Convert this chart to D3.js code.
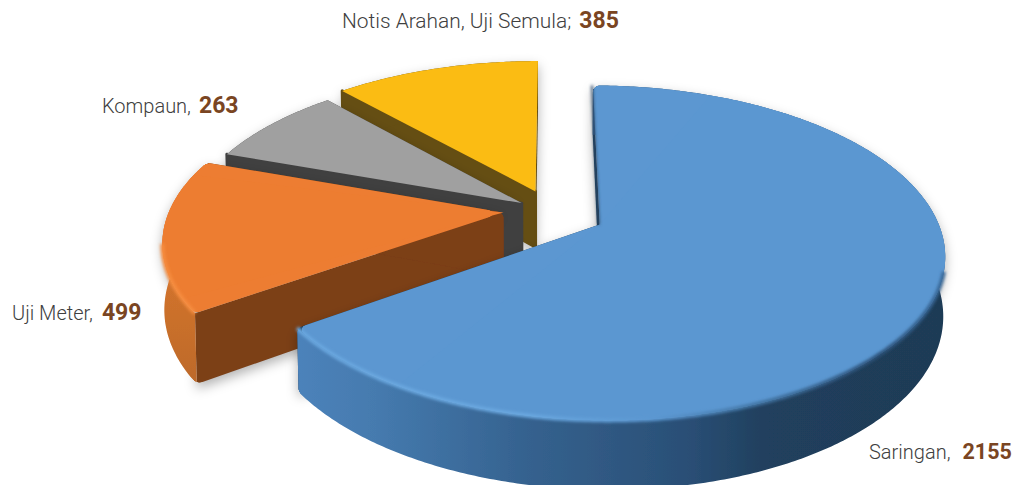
<!DOCTYPE html>
<html>
<head>
    <script src="https://cdn.jsdelivr.net/npm/d3@7"></script>
    <style>
        html, body { margin: 0; padding: 0; background: #fff; overflow: hidden; }
        text { font-family: Roboto, sans-serif; }
    </style>
</head>
<body>
    <div id="viz"></div>
    <script type="text/javascript">
    //Data
    var categories = ["Saringan", "Uji Meter", "Kompaun", "Notis Arahan, Uji Semula"];
    var values = [2155, 499, 263, 385];
    var separators = [", ", ", ", ", ", "; "];

    //Colours, same order as the categories
    var topColors = ["#5b97d1", "#ed7d31", "#a0a0a0", "#fbbc13"];
    var wallColors = ["#1f3b57", "#7b3f18", "#404040", "#654e13"];

    //Chart geometry
    var width = 1016;
    var height = 485;
    var cx = 553;           //Screen position of the pie center.
    var cy = 213;
    var R = 335;            //Radius in the ground plane.
    var k = 0.474;          //Squash of the ground plane.
    var p = 0.0005;         //Perspective strength.
    var explode = [52, 50, 38, 50]; //How far each slice is pulled out.
    var nudge = [0, 8, 0, 0];       //Extra push towards the back.
    var depth = [57, 64, 57, 57];   //Thickness of each slice.

    var svg = d3.select("#viz").append("svg")
        .attr("width", width)
        .attr("height", height)
        .style("display", "block");

    var defs = svg.append("defs");

    //Rounds the convex corners of whatever it is put on.
    var round = defs.append("filter").attr("id", "round")
        .attr("filterUnits", "userSpaceOnUse")
        .attr("x", 0).attr("y", 0).attr("width", width).attr("height", height);
    round.append("feGaussianBlur").attr("in", "SourceGraphic").attr("stdDeviation", 4).attr("result", "b");
    round.append("feColorMatrix").attr("in", "b").attr("type", "matrix")
        .attr("values", "1 0 0 0 0  0 1 0 0 0  0 0 1 0 0  0 0 0 30 -13").attr("result", "g");
    round.append("feComposite").attr("in", "SourceGraphic").attr("in2", "g").attr("operator", "in");

    function blurFilter(id, amount) {
        defs.append("filter").attr("id", id)
            .attr("filterUnits", "userSpaceOnUse")
            .attr("x", 0).attr("y", 0).attr("width", width).attr("height", height)
            .append("feGaussianBlur").attr("stdDeviation", amount);
    }
    blurFilter("soft", 1.6);
    blurFilter("shadow", 6);

    function gradient(id, stops) {
        var g = defs.append("linearGradient").attr("id", id)
            .attr("gradientUnits", "userSpaceOnUse")
            .attr("x1", 300).attr("x2", 945).attr("y1", 0).attr("y2", 0);
        stops.forEach(function(s) {
            g.append("stop").attr("offset", s[0]).attr("stop-color", s[1]);
        });
    }
    gradient("blueRim", [[0, "#4c82ba"], [0.12, "#457aae"], [0.35, "#35628f"], [0.6, "#2a4f76"], [0.72, "#20405e"], [1, "#1f3a55"]]);
    gradient("blueEdge", [[0, "#6aa8e0"], [0.35, "#6aa8e0"], [0.55, "#5b97d1"], [0.72, "#3f719f"], [0.9, "#2b5077"], [1, "#3a6a9a"]]);

    defs.append("linearGradient").attr("id", "orangeRim")
        .attr("gradientUnits", "userSpaceOnUse")
        .attr("x1", 0).attr("x2", 0).attr("y1", 240).attr("y2", 385)
        .selectAll("stop").data([[0, "#d9762e"], [1, "#bd6a2a"]]).enter().append("stop")
        .attr("offset", function(d) { return d[0]; })
        .attr("stop-color", function(d) { return d[1]; });

    var rimFills = ["url(#blueRim)", "url(#orangeRim)", wallColors[2], wallColors[3]];
    var edgeColors = ["url(#blueEdge)", "#f68d40", null, null];

    //Ground plane to screen, angle measured clockwise from the top. z is the drop below the top face.
    function project(u, v, z) {
        var w = 1 / (1 + p * v);
        return [cx + u * w * (z ? 0.995 : 1), cy - k * v * w + z * w];
    }

    var pie = d3.pie().sort(null).startAngle(0).endAngle(2 * Math.PI);
    var slices = pie(values);

    var line = d3.line();

    //Center of an exploded slice in the ground plane.
    function sliceCenter(s) {
        var mid = (s.startAngle + s.endAngle) / 2;
        return [explode[s.index] * Math.sin(mid), explode[s.index] * Math.cos(mid) + nudge[s.index]];
    }

    function rimPoints(s, z) {
        var c = sliceCenter(s);
        var steps = d3.range(s.startAngle, s.endAngle, 0.01).concat([s.endAngle]);
        return steps.map(function(a) {
            return project(c[0] + R * Math.sin(a), c[1] + R * Math.cos(a), z);
        });
    }

    function apex(s, z) {
        var c = sliceCenter(s);
        return project(c[0], c[1], z);
    }

    function radialWall(s, angle) {
        var c = sliceCenter(s);
        var d = depth[s.index];
        var outer = [c[0] + R * Math.sin(angle), c[1] + R * Math.cos(angle)];
        return line([apex(s, 0), project(outer[0], outer[1], 0),
                     project(outer[0], outer[1], d), apex(s, d)]) + "Z";
    }

    //Draw from the back of the picture to the front.
    var order = [3, 2, 1, 0];

    order.forEach(function(i) {
        var s = slices[i];
        var rimTop = rimPoints(s, 0);
        var rimBottom = rimPoints(s, depth[i]);
        var topPath = line([apex(s, 0)].concat(rimTop)) + "Z";
        var rimPath = line(rimTop.concat(rimBottom.slice().reverse())) + "Z";

        var outline = line([apex(s, 0)].concat(rimTop)) + "Z" +
            line([apex(s, depth[i])].concat(rimBottom)) + "Z" + rimPath;

        //Soft shadow under the slice
        svg.append("path")
            .attr("d", outline)
            .attr("fill", "#000")
            .attr("fill-opacity", 0.3)
            .attr("transform", "translate(0,5)")
            .attr("filter", "url(#shadow)");

        //Only the two front slices have visibly rounded corners
        var rounded = i < 2;
        var g = svg.append("g").attr("filter", rounded ? "url(#round)" : null);

        g.append("path").attr("d", radialWall(s, s.startAngle))
            .attr("fill", wallColors[i])
            .attr("stroke", rounded ? "none" : wallColors[i])
            .attr("stroke-width", 3)
            .attr("stroke-linejoin", "round");
        g.append("path").attr("d", radialWall(s, s.endAngle)).attr("fill", wallColors[i]);
        g.append("path").attr("d", rimPath).attr("fill", rimFills[i]);

        g.append("path").attr("d", topPath)
            .attr("fill", topColors[i])
            .attr("filter", rounded ? "url(#round)" : null);

        //The filter also blunts the tip at the center, so lay the inner part on again
        if (rounded) {
            var n = rimTop.length;
            svg.append("path")
                .attr("d", line([apex(s, 0)].concat(rimTop.slice(Math.floor(n * 0.1), Math.ceil(n * 0.9)))) + "Z")
                .attr("fill", topColors[i]);
        }

        //Bevel along the outer edge
        if (edgeColors[i]) {
            var from = i == 0 ? Math.floor(rimTop.length * 0.45) : 0;
            var to = i == 1 ? Math.floor(rimTop.length * 0.45) : rimTop.length;
            svg.append("path")
                .attr("d", line(rimTop.slice(from, to)))
                .attr("fill", "none")
                .attr("stroke", edgeColors[i])
                .attr("stroke-width", 4)
                .attr("filter", "url(#soft)");
        }
    });

    //Thin dark edge down the blue slice's straight side
    var blue = slices[0];
    var blueC = sliceCenter(blue);
    svg.append("path")
        .attr("d", line([apex(blue, 0),
            project(blueC[0] + R * Math.sin(blue.startAngle), blueC[1] + R * Math.cos(blue.startAngle), 0)]))
        .attr("stroke", "#2c4a68")
        .attr("stroke-width", 2)
        .attr("transform", "translate(-1,0)")
        .attr("fill", "none")
        .attr("filter", "url(#soft)");

    //Labels
    var labelX = [869, 12, 102, 342];
    var labelY = [459, 320, 113, 28];
    var labelSize = [20, 20, 20, 20.9];
    var numberSize = [21.5, 23, 23, 23];
    var gaps = [12, 9, 8, 8];

    categories.forEach(function(name, i) {
        var t = svg.append("text")
            .attr("x", labelX[i])
            .attr("y", labelY[i])
            .attr("font-size", labelSize[i]);
        t.append("tspan")
            .attr("font-weight", 300)
            .attr("fill", "#404040")
            .text(name + separators[i].trim());
        t.append("tspan")
            .attr("dx", gaps[i])
            .attr("font-weight", 700)
            .attr("font-size", numberSize[i])
            .attr("fill", "#7a4522")
            .text(values[i]);
    });
    </script>
</body>
</html>
